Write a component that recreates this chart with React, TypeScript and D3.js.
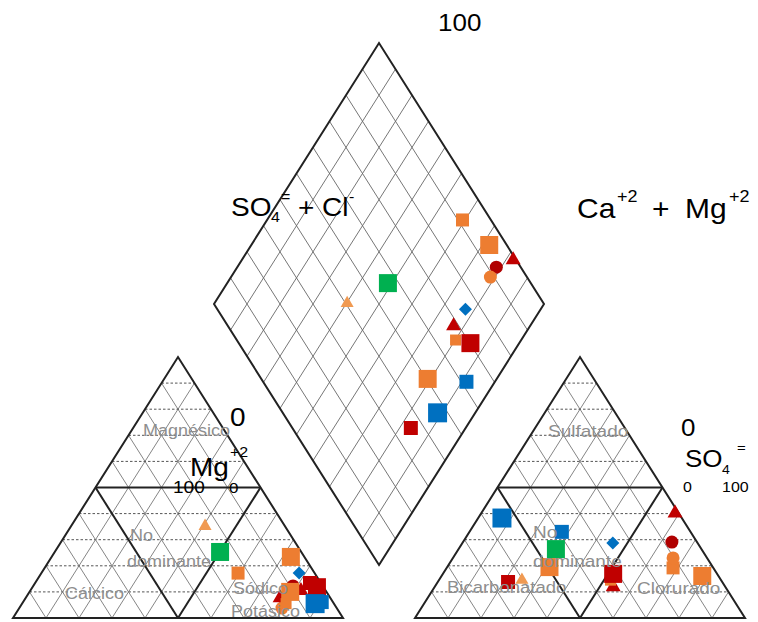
import * as d3 from 'd3';

// geometry (the picture is squashed vertically)
const W = 758;
const H = 622;
const SIDE = 330;
const BASE_Y = 618;
const APEX_Y = 357;
const CAT_X0 = 13;
const AN_X0 = 415;
const DIA_CX = 379;
const DIA_TOP = 43;
const DIA_BOT = 565;
const SQUASH = (BASE_Y - APEX_Y) / (SIDE * Math.sqrt(3) / 2);
const FONT = 'Liberation Sans, Arial, sans-serif';

const COLORS: Record<string, string> = {
  orange: '#ED7D31',
  lightOrange: '#F09A52',
  red: '#C00000',
  darkRed: '#B00000',
  blue: '#0070C0',
  green: '#00B050'
};

const samples = ['M1', 'M2', 'M3', 'M4', 'M5', 'M6', 'M7', 'M8', 'M9', 'M10', 'M11', 'M12', 'M13', 'M14', 'M15'];

// cation triangle (%)
const cationNaK = [59.6, 72.5, 82.0, 78.7, 79.6, 78.1, 77.1, 80.0, 86.2, 79.0, 90.5, 88.8, 83.3, 50.1, 40.6];
const cationMg = [17.2, 23.4, 10.5, 12.3, 3.8, 17.2, 7.7, 5.5, 11.8, 10.0, 6.1, 5.5, 13.4, 25.3, 35.2];

// anion triangle (%)
const anionCl = [68.6, 79.0, 58.7, 63.3, 66.7, 45.6, 54.1, 52.0, 51.6, 31.0, 28.0, 7.2, 21.3, 29.5, 25.1];
const anionSO4 = [19.2, 16.1, 40.2, 29.1, 23.0, 28.7, 11.9, 14.5, 16.9, 19.5, 33.0, 38.3, 13.8, 26.4, 14.6];

// diamond (%)
const diamondCaMg = [40.8, 27.9, 17.8, 21.5, 21.4, 22.8, 23.2, 19.9, 14.8, 20.9, 8.6, 11.4, 16.6, 51.3, 59.8];
const diamondSO4Cl = [91.4, 94.7, 99.1, 92.6, 88.9, 75.2, 68.4, 66.3, 70.2, 50.4, 61.6, 46.9, 35.9, 56.7, 40.5];

const gridLevels = [10, 20, 30, 40, 50, 60, 70, 80, 90];

// marker look per sample
const sampleStyle: Record<string, { shape: string; color: string; size: number }> = {
  M1: { shape: 'square', color: 'orange', size: 13 },
  M2: { shape: 'square', color: 'orange', size: 18 },
  M3: { shape: 'triangle', color: 'red', size: 15 },
  M4: { shape: 'circle', color: 'darkRed', size: 13 },
  M5: { shape: 'circle', color: 'orange', size: 13 },
  M6: { shape: 'diamond', color: 'blue', size: 13 },
  M7: { shape: 'triangle', color: 'red', size: 15 },
  M8: { shape: 'square', color: 'orange', size: 11 },
  M9: { shape: 'square', color: 'red', size: 18 },
  M10: { shape: 'square', color: 'orange', size: 18 },
  M11: { shape: 'square', color: 'blue', size: 14 },
  M12: { shape: 'square', color: 'blue', size: 19 },
  M13: { shape: 'square', color: 'red', size: 14 },
  M14: { shape: 'square', color: 'green', size: 18 },
  M15: { shape: 'triangle', color: 'lightOrange', size: 13 }
};

function symbolPath(shape: string, w: number) {
  if (shape === 'triangle') return d3.symbol().type(d3.symbolTriangle).size((Math.sqrt(3) / 4) * w * w)()!;
  if (shape === 'circle') return d3.symbol().type(d3.symbolCircle).size(Math.PI * (w / 2) * (w / 2))()!;
  if (shape === 'diamond') return d3.symbol().type(d3.symbolSquare).size((w * w) / 2)()!;
  return d3.symbol().type(d3.symbolSquare).size(w * w)()!;
}

function Marker({ id, x, y }: { id: string; x: number; y: number }) {
  const st = sampleStyle[id];
  const rot = st.shape === 'diamond' ? ' rotate(45)' : '';
  return <path d={symbolPath(st.shape, st.size)} transform={`translate(${x},${y})${rot}`} fill={COLORS[st.color]} />;
}

function Txt({ x, y, size, children, fill = '#000', middle = false }: any) {
  return (
    <text
      transform={`translate(${x},${y}) scale(1,${SQUASH})`}
      fontSize={size}
      fill={fill}
      fontFamily={FONT}
      dominantBaseline={middle ? 'middle' : 'auto'}
    >
      {children}
    </text>
  );
}

// ternary triangle: r = right corner %, t = apex %
function Triangle({ x0, r, t }: { x0: number; r: number[]; t: number[] }) {
  const xs = d3.scaleLinear().domain([0, 100]).range([x0, x0 + SIDE]);
  const ys = d3.scaleLinear().domain([0, 100]).range([BASE_Y, APEX_Y]);
  const pt = (a: number, b: number) => [xs(a + b / 2), ys(b)];
  const line = (p: number[], q: number[]) => `M${p[0]},${p[1]}L${q[0]},${q[1]}`;

  return (
    <g>
      {gridLevels.map(k => (
        <g key={k}>
          <path d={line(pt(0, k), pt(100 - k, k))} stroke="#555" strokeWidth={1} strokeDasharray="2.5 2" />
          <path d={line(pt(k, 0), pt(k, 100 - k))} stroke="#777" strokeWidth={0.9} />
          <path d={line(pt(100 - k, 0), pt(0, 100 - k))} stroke="#777" strokeWidth={0.9} />
        </g>
      ))}
      <path d={line(pt(0, 50), pt(50, 50))} stroke="#222" strokeWidth={2} />
      <path d={line(pt(50, 0), pt(0, 50))} stroke="#222" strokeWidth={2} />
      <path d={line(pt(50, 0), pt(50, 50))} stroke="#222" strokeWidth={2} />
      <path
        d={`M${pt(0, 0)}L${pt(100, 0)}L${pt(0, 100)}Z`}
        fill="none"
        stroke="#222"
        strokeWidth={2}
      />
      {samples.map((id, i) => {
        const [x, y] = pt(r[i], t[i]);
        return <Marker key={id} id={id} x={x} y={y} />;
      })}
    </g>
  );
}

function Diamond() {
  const xD = d3.scaleLinear().domain([-100, 100]).range([DIA_CX - SIDE / 2, DIA_CX + SIDE / 2]);
  const yD = d3.scaleLinear().domain([0, 200]).range([DIA_BOT, DIA_TOP]);
  const pt = (c: number, s: number) => [xD(s - c), yD(c + s)];
  const line = (p: number[], q: number[]) => `M${p[0]},${p[1]}L${q[0]},${q[1]}`;
  return (
    <g>
      {gridLevels.map(k => (
        <g key={k}>
          <path d={line(pt(k, 0), pt(k, 100))} stroke="#666" strokeWidth={0.9} />
          <path d={line(pt(0, k), pt(100, k))} stroke="#666" strokeWidth={0.9} />
        </g>
      ))}
      <path
        d={`M${pt(0, 0)}L${pt(0, 100)}L${pt(100, 100)}L${pt(100, 0)}Z`}
        fill="none"
        stroke="#222"
        strokeWidth={2}
      />
      {samples.map((id, i) => {
        const [x, y] = pt(diamondCaMg[i], diamondSO4Cl[i]);
        return <Marker key={id} id={id} x={x} y={y} />;
      })}
    </g>
  );
}

export default function App() {
  const gray = '#8e8e8e';
  return (
    <svg
      width={W}
      height={H}
      viewBox={`0 0 ${W} ${H}`}
      style={{ position: 'absolute', left: 0, top: 0, background: '#fff' }}
    >
      <Diamond />
      <Triangle x0={CAT_X0} r={cationNaK} t={cationMg} />
      <Triangle x0={AN_X0} r={anionCl} t={anionSO4} />

      {/* region names */}
      <g>
        <Txt x={143} y={432} size={18} fill={gray} middle>Magnésico</Txt>
        <Txt x={130} y={537} size={18} fill={gray} middle>No</Txt>
        <Txt x={127} y={563} size={18} fill={gray} middle>dominante</Txt>
        <Txt x={65} y={595} size={18} fill={gray} middle>Cálcico</Txt>
        <Txt x={233} y={590} size={18} fill={gray} middle>Sódico</Txt>
        <Txt x={231} y={613} size={18} fill={gray} middle>Potásico</Txt>
        <Txt x={548} y={432} size={19} fill={gray} middle>Sulfatado</Txt>
        <Txt x={533} y={533} size={19} fill={gray} middle>No</Txt>
        <Txt x={533} y={562} size={19} fill={gray} middle>dominante</Txt>
        <Txt x={447} y={589} size={18.5} fill={gray} middle>Bicarbonatado</Txt>
        <Txt x={637} y={589} size={19} fill={gray} middle>Clorurado</Txt>
      </g>

      {/* axis labels */}
      <Txt x={438} y={31} size={26}>100</Txt>

      <Txt x={231} y={216} size={28}>SO</Txt>
      <Txt x={271} y={222} size={16}>4</Txt>
      <Txt x={281} y={202} size={16}>=</Txt>
      <Txt x={298} y={216} size={28}>+ Cl</Txt>
      <Txt x={349} y={202} size={16}>-</Txt>

      <Txt x={577} y={218} size={30}>Ca</Txt>
      <Txt x={617} y={202} size={18}>+2</Txt>
      <Txt x={652} y={218} size={30}>+</Txt>
      <Txt x={685} y={218} size={30}>Mg</Txt>
      <Txt x={729} y={202} size={18}>+2</Txt>

      <Txt x={230} y={426} size={28}>0</Txt>
      <Txt x={190} y={476} size={28}>Mg</Txt>
      <Txt x={230} y={457} size={16}>+2</Txt>
      <Txt x={173} y={493} size={19}>100</Txt>
      <Txt x={229} y={493} size={17}>0</Txt>

      <Txt x={681} y={436} size={26}>0</Txt>
      <Txt x={685} y={467} size={26}>SO</Txt>
      <Txt x={722} y={474} size={14}>4</Txt>
      <Txt x={737} y={452} size={15}>=</Txt>
      <Txt x={683} y={492} size={16}>0</Txt>
      <Txt x={722} y={492} size={16}>100</Txt>
    </svg>
  );
}
